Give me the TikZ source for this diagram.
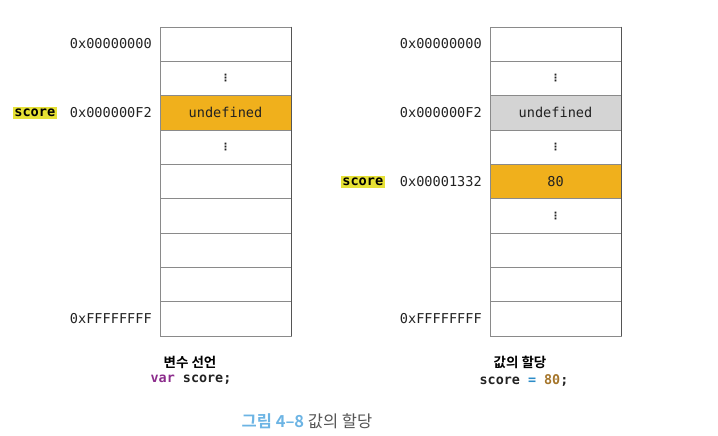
\documentclass[tikz,border=0pt]{standalone}
\usepackage{fontspec}
\setmainfont{DejaVu Sans}
\setmonofont{DejaVu Sans Mono}
\newfontfamily\krfont{Noto Sans CJK KR}
\newfontfamily\krbold{Noto Sans CJK KR Bold}
\definecolor{cellline}{HTML}{8A8A8A}
\definecolor{framedark}{HTML}{555555}
\definecolor{orangefill}{HTML}{F0B01C}
\definecolor{grayfill}{HTML}{D4D4D4}
\definecolor{hlyellow}{HTML}{E6E135}
\definecolor{txt}{HTML}{222222}
\definecolor{kwpurple}{HTML}{8C2C8C}
\definecolor{opblue}{HTML}{2C8CC8}
\definecolor{numbrown}{HTML}{A5752A}
\definecolor{capblue}{HTML}{6CB4E4}
\definecolor{capgray}{HTML}{555555}
\tikzset{
  cell/.style={draw=cellline, line width=0.8pt, minimum width=131pt, minimum height=34.33pt, inner sep=0pt, text=txt, font=\ttfamily\fontsize{13.6}{14}\selectfont},
  addr/.style={anchor=east, inner sep=0pt, text=txt, font=\ttfamily\fontsize{13.6}{14}\selectfont},
  varlbl/.style={anchor=east, fill=hlyellow, inner xsep=1.5pt, inner ysep=2pt, text=black, font=\ttfamily\bfseries\fontsize{13.6}{14}\selectfont},
  vdots/.style={font=\bfseries\fontsize{10}{10}\selectfont, text=txt},
  krcap/.style={font=\krbold\fontsize{13.5}{14}\selectfont, text=black, inner sep=0pt},
  code/.style={font=\ttfamily\bfseries\fontsize{13.4}{14}\selectfont, inner sep=0pt},
}
\begin{document}
\begin{tikzpicture}[x=1pt, y=-1pt]
\useasboundingbox (0,0) rectangle (718,436);
% left memory column
\foreach \i in {1,...,9} {
  \node[cell] (L\i) at (225.5, {27+34.33*(\i-0.5)}) {};
}
\node[cell, fill=orangefill] (L3) at (225.5, {27+34.33*2.5}) {undefined};
\node[vdots] (Ld2) at (L2) {⋮};
\node[vdots] (Ld4) at (L4) {⋮};
\draw[framedark, line width=0.9pt] (L1.north east) -- (L9.south east);
% right memory column
\foreach \i in {1,...,9} {
  \node[cell] (R\i) at (555.5, {27+34.33*(\i-0.5)}) {};
}
\node[cell, fill=grayfill] (R3) at (555.5, {27+34.33*2.5}) {undefined};
\node[cell, fill=orangefill] (R5) at (555.5, {27+34.33*4.5}) {80};
\node[vdots] (Rd2) at (R2) {⋮};
\node[vdots] (Rd4) at (R4) {⋮};
\node[vdots] (Rd6) at (R6) {⋮};
\draw[framedark, line width=0.9pt] (R1.north east) -- (R9.south east);
% addresses left
\node[addr] (La1) at (152, 44) {0x00000000};
\node[addr] (La3) at (152, 113) {0x000000F2};
\node[addr] (La9) at (152, 319) {0xFFFFFFFF};
\node[varlbl] (Ls) at (57, 113) {score};
% addresses right
\node[addr] (Ra1) at (482, 44) {0x00000000};
\node[addr] (Ra3) at (482, 113) {0x000000F2};
\node[addr] (Ra5) at (482, 182) {0x00001332};
\node[addr] (Ra9) at (482, 319) {0xFFFFFFFF};
\node[varlbl] (Rs) at (385, 182) {score};
% captions
\node[krcap] (Lc1) at (190, 362) {변수 선언};
\node[code] (Lc2) at (191, 380) {\textcolor{kwpurple}{var} \textcolor{txt}{score;}};
\node[krcap] (Rc1) at (520, 362) {값의 할당};
\node[code] (Rc2) at (524, 380) {\textcolor{txt}{score} \textcolor{opblue}{=} \textcolor{numbrown}{80}\textcolor{txt}{;}};
\node[font=\krfont\fontsize{16.5}{17}\selectfont, inner sep=0pt] (fig) at (307, 421) {\textcolor{capblue}{\krbold 그림 4–8} \textcolor{capgray}{값의 할당}};
\end{tikzpicture}
\end{document}
